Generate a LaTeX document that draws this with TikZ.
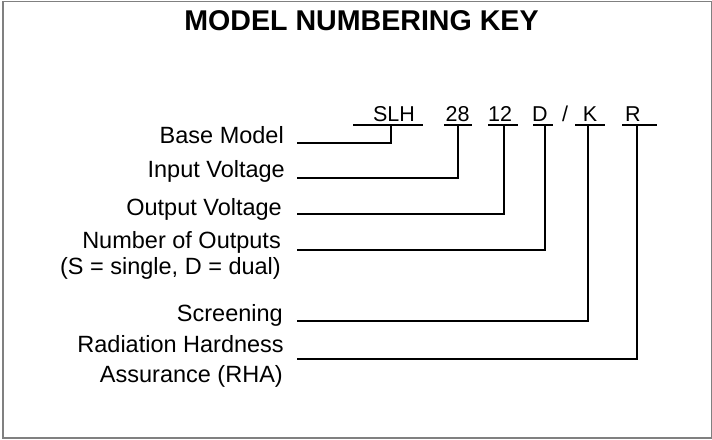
\documentclass[tikz,border=0pt]{standalone}
\usepackage{fontspec}
\setmainfont{Liberation Sans}
\usetikzlibrary{positioning}

\tikzset{
  keylabel/.style={anchor=base east, inner sep=0pt, font=\fontsize{23.5}{27}\selectfont},
  codechar/.style={anchor=base, inner sep=0pt, font=\fontsize{21.5}{24}\selectfont},
  lead/.style={line width=2pt, line join=miter},
}

\begin{document}
\begin{tikzpicture}[x=1pt, y=-1pt]
  \useasboundingbox (0,0) rectangle (712,439);
  \draw[gray, line width=1.5pt] (3,1.5) rectangle (711.5,438);

  \node[anchor=base, inner sep=0pt, font=\bfseries\fontsize{28.6}{32}\selectfont] (title) at (361.5,30) {MODEL NUMBERING KEY};

  % model number
  \node[codechar] (slh) at (394,121) {SLH};
  \node[codechar] (vin) at (457.5,121) {28};
  \node[codechar] (vout) at (500,121) {12};
  \node[codechar] (outs) at (540,121) {D};
  \node[codechar] (slash) at (565,121) {/};
  \node[codechar] (scr) at (590,121) {K};
  \node[codechar] (rha) at (633,121) {R};

  \draw[lead] (353,125) -- (423,125);
  \draw[lead] (444,125) -- (472,125);
  \draw[lead] (488,125) -- (518,125);
  \draw[lead] (533,125) -- (553,125);
  \draw[lead] (575,125) -- (605,125);
  \draw[lead] (622,125) -- (657,125);

  \coordinate (slh t) at (391,125);
  \coordinate (vin t) at (458,125);
  \coordinate (vout t) at (504,125);
  \coordinate (outs t) at (545,125);
  \coordinate (scr t) at (588,125);
  \coordinate (rha t) at (637,125);

  % descriptions
  \node[keylabel] (base) at (284,143) {Base Model};
  \node[keylabel] (input) at (285,177) {Input Voltage};
  \node[keylabel] (output) at (282,215) {Output Voltage};
  \node[keylabel] (number) at (281,248) {Number of Outputs};
  \node[keylabel] (number2) at (281,274) {(S = single, D = dual)};
  \node[keylabel] (screen) at (283,321) {Screening};
  \node[keylabel] (radiation) at (284,352) {Radiation Hardness};
  \node[keylabel] (radiation2) at (283,382) {Assurance (RHA)};

  \coordinate (base s) at (297,143);
  \coordinate (input s) at (297,178);
  \coordinate (output s) at (297,214);
  \coordinate (number s) at (297,250);
  \coordinate (screen s) at (297,321);
  \coordinate (radiation s) at (297,359);

  \draw[lead] (base s) -| (slh t);
  \draw[lead] (input s) -| (vin t);
  \draw[lead] (output s) -| (vout t);
  \draw[lead] (number s) -| (outs t);
  \draw[lead] (screen s) -| (scr t);
  \draw[lead] (radiation s) -| (rha t);
\end{tikzpicture}
\end{document}
